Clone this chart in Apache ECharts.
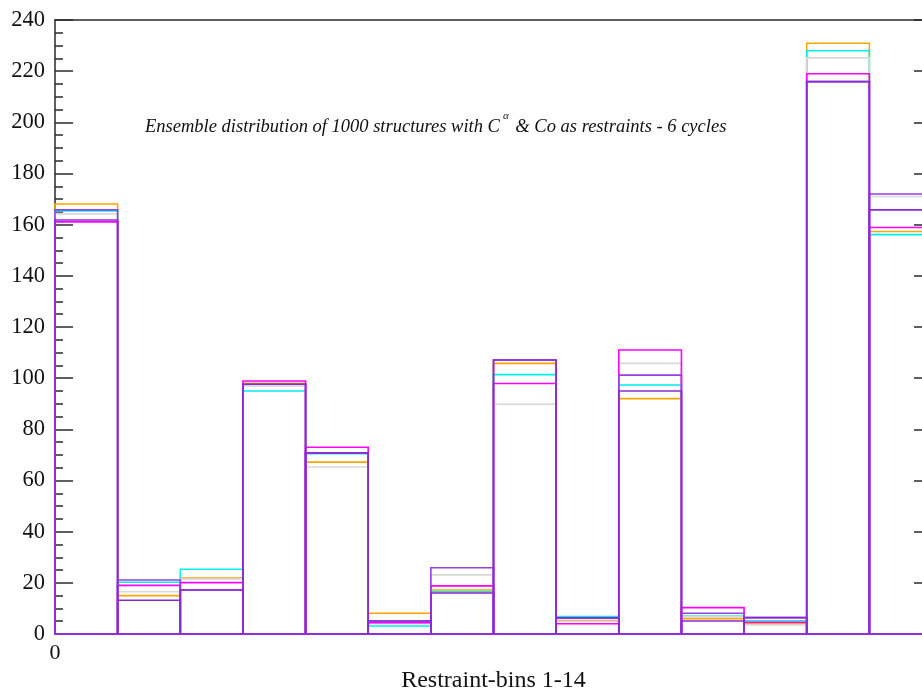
<!DOCTYPE html>
<html>
<head>
<meta charset="utf-8">
<script src="https://cdn.jsdelivr.net/npm/echarts@6/dist/echarts.min.js"></script>
<style>
html,body{margin:0;padding:0;background:#fff;}
#chart{width:922px;height:689px;}
</style>
</head>
<body>
<div id="chart"></div>
<script>
// bins 1..14
const bins = ['1','2','3','4','5','6','7','8','9','10','11','12','13','14'];
const orange  = [168.1, 15.0, 21.9, 98.0, 67.2, 8.1, 17.2, 105.8, 5.3, 92.0, 6.0, 4.0, 230.9, 157.3];
const cyan    = [165.4, 20.2, 25.3, 95.0, 70.5, 3.1, 16.5, 101.4, 6.8, 97.3, 7.0, 5.2, 228.0, 156.1];
const gray    = [164.2, 16.5, 21.5, 97.0, 65.3, 4.0, 23.1, 89.8, 5.0, 105.8, 6.8, 3.5, 225.2, 171.0];
const magenta = [161.1, 19.0, 20.1, 98.9, 73.0, 4.4, 18.8, 97.9, 4.0, 111.0, 10.3, 4.6, 219.0, 158.9];
const purpleA = [165.8, 21.1, 17.2, 97.6, 70.8, 5.1, 25.9, 107.1, 6.3, 101.2, 8.1, 6.4, 215.9, 172.0];
const purpleB = [161.8, 13.2, 17.2, 97.6, 70.8, 5.1, 16.0, 107.1, 6.3, 95.0, 5.1, 6.4, 215.9, 165.8];
const yTicks = [0, 240, 20];

const seriesDefs = [
  {name: 'cycle 1', values: orange,  color: '#FFA500'},
  {name: 'cycle 2', values: cyan,    color: '#00F0F0'},
  {name: 'cycle 3', values: gray,    color: '#D8D8D8'},
  {name: 'cycle 4', values: magenta, color: '#FF00FF'},
  {name: 'cycle 5', values: purpleA, color: '#9A3FE0'},
  {name: 'cycle 6', values: purpleB, color: '#8A2BD2'}
];

const chart = echarts.init(document.getElementById('chart'), null, {renderer: 'canvas'});
const serif = '"Liberation Serif", "DejaVu Serif", serif';

function makeSeries(def) {
  return {
    type: 'custom',
    name: def.name,
    clip: false,
    xAxisIndex: 0, yAxisIndex: 0,
    data: def.values.map((v, i) => [i, v]),
    renderItem: function (params, api) {
      const i = api.value(0), v = api.value(1);
      const p0 = api.coord([i, 0]);
      const p1 = api.coord([i + 1, v]);
      return {
        type: 'rect',
        shape: {x: p0[0], y: p1[1], width: p1[0] - p0[0], height: p0[1] - p1[1]},
        style: {fill: null, stroke: def.color, lineWidth: 1.6}
      };
    }
  };
}

const axisColor = '#2a2a2a';
chart.setOption({
  animation: false,
  backgroundColor: '#fff',
  grid: {left: 55, top: 20, right: -10, bottom: 55, containLabel: false, outerBoundsMode: 'none'},
  xAxis: [{
    type: 'value', position: 'bottom', min: 0, max: bins.length, interval: bins.length,
    name: 'Restraint-bins 1-14', nameLocation: 'middle', nameGap: 35,
    nameTextStyle: {fontFamily: serif, fontSize: 24, color: '#111'},
    axisLine: {show: true, onZero: false, lineStyle: {color: '#333', width: 2}},
    axisTick: {show: false},
    splitLine: {show: false},
    axisLabel: {formatter: v => (v === 0 ? '0' : ''), fontFamily: serif, fontSize: 22, color: '#111', margin: 8}
  }, {
    type: 'value', position: 'top', min: 0, max: bins.length,
    axisLine: {show: true, onZero: false, lineStyle: {color: axisColor, width: 1.5}},
    axisTick: {show: false}, axisLabel: {show: false}, splitLine: {show: false}
  }],
  yAxis: [{
    type: 'value', position: 'left', min: yTicks[0], max: yTicks[1], interval: yTicks[2],
    axisLine: {show: true, onZero: false, lineStyle: {color: axisColor, width: 1.5}},
    axisTick: {show: true, inside: true, length: 18, lineStyle: {color: axisColor, width: 1.5}},
    minorTick: {show: true, splitNumber: 4, length: 8, lineStyle: {color: axisColor, width: 1.5}},
    splitLine: {show: false},
    axisLabel: {fontFamily: serif, fontSize: 22.5, color: '#111', margin: 10}
  }, {
    type: 'value', position: 'right', min: yTicks[0], max: yTicks[1], interval: yTicks[2],
    axisLine: {show: true, onZero: false, lineStyle: {color: axisColor, width: 1.5}},
    axisTick: {show: true, inside: true, length: 18, lineStyle: {color: axisColor, width: 1.5}},
    minorTick: {show: true, splitNumber: 4, length: 8, lineStyle: {color: axisColor, width: 1.5}},
    splitLine: {show: false},
    axisLabel: {show: false}
  }],
  graphic: [{
    type: 'text', left: 145, top: 111,
    style: {
      text: '{a|Ensemble distribution of 1000 structures with C}{s|α}{a| & Co as restraints - 6 cycles}',
      rich: {
        a: {fontFamily: serif, fontStyle: 'italic', fontSize: 18.5, fill: '#111', lineHeight: 26, verticalAlign: 'bottom'},
        s: {fontFamily: serif, fontStyle: 'italic', fontSize: 11, fill: '#111', lineHeight: 26, verticalAlign: 'top', padding: [0, 2, 0, 3]}
      }
    }
  }],
  series: seriesDefs.map(makeSeries)
});
</script>
</body>
</html>
